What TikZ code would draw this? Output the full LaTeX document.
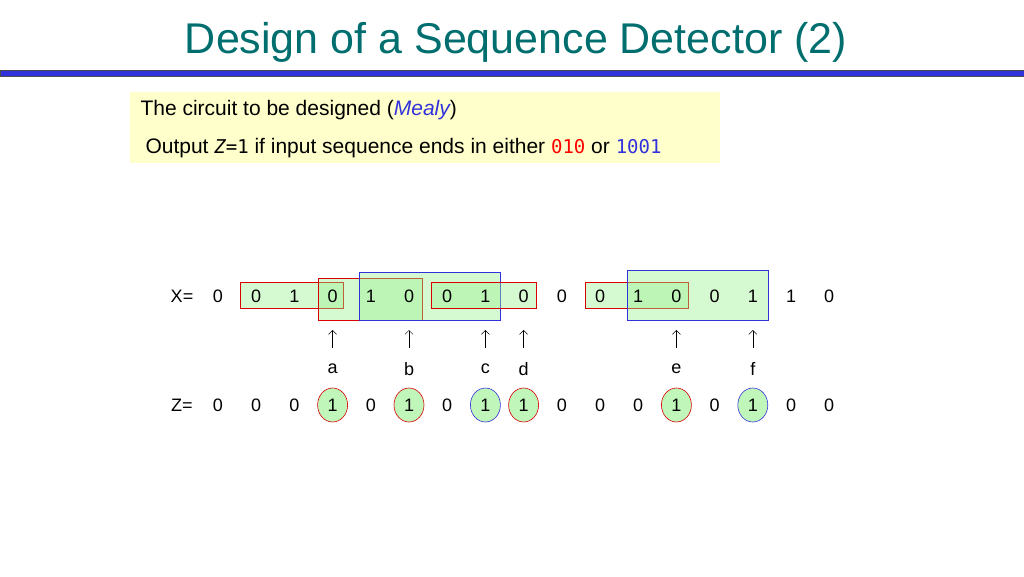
\documentclass[tikz,border=0pt]{standalone}
\usepackage{fontspec}
\setmainfont{Liberation Sans}
\setmonofont{DejaVu Sans Mono}
\usetikzlibrary{shapes.geometric,arrows.meta}
\definecolor{teal1}{RGB}{0,110,110}
\definecolor{ybg}{RGB}{255,255,204}
\definecolor{gfill}{RGB}{150,240,140}
\definecolor{mblue}{RGB}{50,50,220}
\tikzset{
 dig/.style={font=\fontsize{18}{20}\selectfont, inner sep=0pt},
 rbox/.style={draw=red!85!black, fill=gfill, fill opacity=0.4, line width=0.8pt},
 bbox/.style={draw=mblue, fill=gfill, fill opacity=0.4, line width=0.8pt},
 rell/.style={draw=red!85!black, fill=gfill!60, ellipse, minimum width=30pt, minimum height=34pt, inner sep=0pt, line width=0.6pt, font=\fontsize{18}{20}\selectfont},
 bell/.style={rell, draw=mblue},
 arr/.style={-{Straight Barb[length=4pt]}, line width=0.5pt}
}
\begin{document}
\begin{tikzpicture}[x=1pt,y=-1pt]
\useasboundingbox (0,0) rectangle (1024,576);
\node[text=teal1, font=\fontsize{43}{46}\selectfont] (title) at (516,42) {Design of a Sequence Detector (2)};
\fill[mblue] (0,70) rectangle (1024,76);
\draw[black!70, line width=0.6pt] (0,70) rectangle (1024,76);
\fill[ybg] (130,92) rectangle (720,163);
\node[anchor=west, font=\fontsize{21}{24}\selectfont] (l1) at (137,110) {The circuit to be designed (\textcolor{mblue}{\itshape Mealy})};
\node[anchor=west, font=\fontsize{21}{24}\selectfont] (l2) at (142,148) {Output {\ttfamily\fontsize{19}{22}\selectfont\itshape Z\upshape=1} if input sequence ends in either {\ttfamily\fontsize{19}{22}\selectfont\textcolor{red}{010}} or {\ttfamily\fontsize{19}{22}\selectfont\textcolor{mblue}{1001}}};
\draw[rbox] (240,282) rectangle (343,308);
\draw[rbox] (318,278) rectangle (422,320);
\draw[bbox] (359,272) rectangle (500,320);
\draw[rbox] (431,282) rectangle (536,308);
\draw[rbox] (585,282) rectangle (688,308);
\draw[bbox] (627,270) rectangle (768,320);
\node[dig] (xl) at (182,296) {X=};
\node[dig] (zl) at (182,405) {Z=};
\foreach \v [count=\i] in {0,0,1,0,1,0,0,1,0,0,0,1,0,0,1,1,0}
  \node[dig] (x\i) at ({218+38.2*(\i-1)},296) {\v};
\foreach \i in {1,2,3,5,7,10,11,12,14,16,17}
  \node[dig] (z\i) at ({218+38.2*(\i-1)},405) {0};
\node[rell] (z4) at (332.6,405) {1};
\node[rell] (z6) at (409,405) {1};
\node[bell] (z8) at (485.4,405) {1};
\node[rell] (z9) at (523.6,405) {1};
\node[rell] (z13) at (676.4,405) {1};
\node[bell] (z15) at (752.8,405) {1};
\foreach \c/\l/\n in {332.6/a/4,409/b/6,485.4/c/8,523.6/d/9,676.4/e/13,752.8/f/15}{
  \node[dig] (lab\n) at (\c,369) {\l};
  \coordinate (s\n) at (\c,348);
  \coordinate (t\n) at (\c,330);
  \draw[arr] (s\n) -- (t\n);
}
\end{tikzpicture}
\end{document}
